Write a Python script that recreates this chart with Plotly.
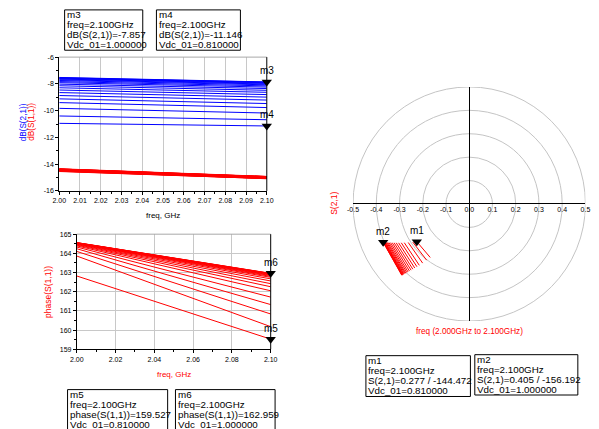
import numpy as np
import plotly.graph_objects as go

W, H = 599, 429
FONT = "Liberation Sans, Arial, sans-serif"
BLUE = "#0000ff"
RED = "#ff0000"
GRID = "#c8c8c8"

# ---------------- data ----------------
vdc = [1.00, 0.99, 0.98, 0.97, 0.96, 0.95, 0.94, 0.93, 0.92, 0.91,
       0.90, 0.89, 0.88, 0.87, 0.86, 0.85, 0.84, 0.83, 0.82, 0.81]
freq_ghz = [2.00, 2.10]

# dB(S(2,1)) at 2.00 GHz and 2.10 GHz, one value per Vdc
s21_db_start = [-7.52, -7.54, -7.57, -7.60, -7.64, -7.69, -7.75, -7.83, -7.91, -8.02,
                -8.14, -8.29, -8.46, -8.65, -8.87, -9.12, -9.40, -9.83, -10.40, -10.95]
s21_db_end = [-7.857, -7.87, -7.89, -7.92, -7.96, -8.01, -8.07, -8.15, -8.24, -8.35,
              -8.48, -8.63, -8.80, -8.99, -9.21, -9.47, -9.77, -10.18, -10.68, -11.146]

# dB(S(1,1))
s11_db_start = [-14.36, -14.37, -14.37, -14.38, -14.39, -14.39, -14.40, -14.41, -14.42, -14.43,
                -14.44, -14.45, -14.46, -14.47, -14.48, -14.49, -14.50, -14.51, -14.52, -14.53]
s11_db_end = [-14.93, -14.94, -14.94, -14.95, -14.96, -14.96, -14.97, -14.98, -14.99, -15.00,
              -15.00, -15.01, -15.02, -15.03, -15.04, -15.05, -15.05, -15.06, -15.07, -15.08]

# phase(S(1,1)) in degrees
s11_phase_start = [164.56, 164.56, 164.55, 164.55, 164.545, 164.54, 164.535, 164.53, 164.52, 164.51,
                   164.50, 164.48, 164.46, 164.43, 164.39, 164.33, 164.24, 164.10, 163.86, 162.82]
s11_phase_end = [162.959, 162.953, 162.945, 162.935, 162.92, 162.90, 162.87, 162.84, 162.80, 162.75,
                 162.67, 162.56, 162.42, 162.26, 162.05, 161.72, 161.33, 160.84, 160.18, 159.527]

# S(2,1) magnitude / angle (deg) at 2.00 GHz and 2.10 GHz
s21_mag_start = [0.4207, 0.4198, 0.4183, 0.4169, 0.4150, 0.4126, 0.4097, 0.4060, 0.4023, 0.3972,
                 0.3918, 0.3851, 0.3776, 0.3694, 0.3602, 0.3499, 0.3388, 0.3224, 0.3020, 0.2834]
s21_mag_end = [0.4047, 0.4041, 0.4032, 0.4018, 0.3999, 0.3976, 0.3949, 0.3912, 0.3873, 0.3824,
               0.3767, 0.3702, 0.3631, 0.3552, 0.3463, 0.3361, 0.3247, 0.3097, 0.2924, 0.2771]
s21_ang_start = [-133.60, -133.57, -133.53, -133.46, -133.37, -133.26, -133.13, -132.96, -132.75, -132.51,
                 -132.22, -131.89, -131.51, -131.09, -130.60, -130.02, -129.36, -128.45, -127.34, -126.30]
s21_ang_end = [-156.192, -156.14, -156.07, -155.97, -155.83, -155.65, -155.44, -155.16, -154.83, -154.44,
               -153.98, -153.45, -152.84, -152.16, -151.37, -150.45, -149.38, -147.92, -146.13, -144.472]

# axis ticks
top_xticks = [2.00, 2.01, 2.02, 2.03, 2.04, 2.05, 2.06, 2.07, 2.08, 2.09, 2.10]
top_yticks = [-16, -14, -12, -10, -8, -6]
bot_xticks = [2.00, 2.02, 2.04, 2.06, 2.08, 2.10]
bot_yticks = [159, 160, 161, 162, 163, 164, 165]
polar_ticks = [-0.5, -0.4, -0.3, -0.2, -0.1, 0.0, 0.1, 0.2, 0.3, 0.4, 0.5]
polar_rings = [0.1, 0.2, 0.3, 0.4, 0.5]

# ---------------- helpers ----------------
def px(x):
    return x / W


def py(y):
    return 1 - y / H


fig = go.Figure()
n = len(vdc)

for i in range(n):
    fig.add_trace(go.Scatter(x=freq_ghz, y=[s21_db_start[i], s21_db_end[i]], mode="lines",
                             line=dict(color=BLUE, width=1), xaxis="x", yaxis="y",
                             showlegend=False, hoverinfo="skip"))
for i in range(n):
    fig.add_trace(go.Scatter(x=freq_ghz, y=[s11_db_start[i], s11_db_end[i]], mode="lines",
                             line=dict(color=RED, width=1.3), xaxis="x", yaxis="y",
                             showlegend=False, hoverinfo="skip"))
for i in range(n):
    fig.add_trace(go.Scatter(x=freq_ghz, y=[s11_phase_start[i], s11_phase_end[i]], mode="lines",
                             line=dict(color=RED, width=1), xaxis="x2", yaxis="y2",
                             showlegend=False, hoverinfo="skip"))
for i in range(n):
    mags = np.array([s21_mag_start[i], s21_mag_end[i]])
    angs = np.deg2rad([s21_ang_start[i], s21_ang_end[i]])
    fig.add_trace(go.Scatter(x=mags * np.cos(angs), y=mags * np.sin(angs), mode="lines",
                             line=dict(color=RED, width=1), xaxis="x3", yaxis="y3",
                             showlegend=False, hoverinfo="skip"))

# ---------------- markers ----------------
fm = freq_ghz[-1]
hi, lo = 0, n - 1
mk = dict(symbol="triangle-down", size=9, color="black")
fig.add_trace(go.Scatter(x=[fm, fm], y=[s21_db_end[hi], s21_db_end[lo]], mode="markers",
                         marker=mk, xaxis="x", yaxis="y", cliponaxis=False,
                         showlegend=False, hoverinfo="skip"))
fig.add_trace(go.Scatter(x=[fm, fm], y=[s11_phase_end[lo], s11_phase_end[hi]], mode="markers",
                         marker=mk, xaxis="x2", yaxis="y2", cliponaxis=False,
                         showlegend=False, hoverinfo="skip"))
pm = np.array([s21_mag_end[lo], s21_mag_end[hi]])
pa = np.deg2rad([s21_ang_end[lo], s21_ang_end[hi]])
fig.add_trace(go.Scatter(x=pm * np.cos(pa), y=pm * np.sin(pa), mode="markers",
                         marker=mk, xaxis="x3", yaxis="y3", cliponaxis=False,
                         showlegend=False, hoverinfo="skip"))

annotations = []
shapes = []


def mlabel(text, x, y, xr, yr):
    annotations.append(dict(text=text, x=x, y=y, xref=xr, yref=yr, showarrow=False,
                            yshift=11, xanchor="center", yanchor="middle",
                            font=dict(family=FONT, size=10, color="black")))


mlabel("m3", fm, s21_db_end[hi], "x", "y")
mlabel("m4", fm, s21_db_end[lo], "x", "y")
mlabel("m5", fm, s11_phase_end[lo], "x2", "y2")
mlabel("m6", fm, s11_phase_end[hi], "x2", "y2")
mlabel("m1", float(pm[0] * np.cos(pa[0])), float(pm[0] * np.sin(pa[0])), "x3", "y3")
mlabel("m2", float(pm[1] * np.cos(pa[1])), float(pm[1] * np.sin(pa[1])), "x3", "y3")

# marker readout boxes
freq_txt = f"freq={fm:.3f}GHz"
boxes = [
    ((59, 139, 6, 47), ["m3", freq_txt, f"dB(S(2,1))={s21_db_end[hi]:.3f}", f"Vdc_01={vdc[hi]:.6f}"]),
    ((153, 239, 6, 47), ["m4", freq_txt, f"dB(S(2,1))={s21_db_end[lo]:.3f}", f"Vdc_01={vdc[lo]:.6f}"]),
    ((62, 164.5, 392, 440), ["m5", freq_txt, f"phase(S(1,1))={s11_phase_end[lo]:.3f}", f"Vdc_01={vdc[lo]:.6f}"]),
    ((172.5, 274.5, 392, 440), ["m6", freq_txt, f"phase(S(1,1))={s11_phase_end[hi]:.3f}", f"Vdc_01={vdc[hi]:.6f}"]),
    ((367.5, 474.5, 357.5, 399), ["m1", freq_txt, f"S(2,1)={s21_mag_end[lo]:.3f} / {s21_ang_end[lo]:.3f}", f"Vdc_01={vdc[lo]:.6f}"]),
    ((479, 584.5, 356.5, 397.5), ["m2", freq_txt, f"S(2,1)={s21_mag_end[hi]:.3f} / {s21_ang_end[hi]:.3f}", f"Vdc_01={vdc[hi]:.6f}"]),
]
for (x0, x1, y0, y1), lines in boxes:
    shapes.append(dict(type="rect", xref="paper", yref="paper", x0=px(x0), x1=px(x1),
                       y0=py(y1), y1=py(y0), line=dict(color="black", width=1),
                       fillcolor="white", layer="above"))
    for k, t in enumerate(lines):
        annotations.append(dict(text=t, xref="paper", yref="paper", x=px(x0 + 1.2),
                                y=py(y0 + 4.8 + 10.1 * k), xanchor="left", yanchor="middle",
                                showarrow=False, borderpad=0,
                                font=dict(family=FONT, size=9.8, color="black")))


# axis titles
def title(text, x, y, color, size=8, angle=0):
    annotations.append(dict(text=text, xref="paper", yref="paper", x=px(x), y=py(y),
                            xanchor="center", yanchor="middle", showarrow=False,
                            textangle=angle, font=dict(family=FONT, size=size, color=color)))


title("freq, GHz", 160, 214.5, "black")
title("dB(S(2,1))", 16.7, 120, BLUE, 8.2, -90)
title("dB(S(1,1))", 24.3, 120, RED, 8.2, -90)
title("freq, GHz", 170.8, 376.7, RED)
title("phase(S(1,1))", 41.7, 293, RED, 8.5, -90)
title("freq (2.000GHz to 2.100GHz)", 473.3, 332.7, RED, 8.2)
title("S(2,1)", 335, 203, RED, 8.5, -90)

# plot frames: top grey, right black
for xr, yr in (("x", "y"), ("x2", "y2")):
    shapes.append(dict(type="line", xref=f"{xr} domain", yref=f"{yr} domain", x0=0, x1=1, y0=1, y1=1,
                       line=dict(color="#a8a8a8", width=1), layer="above"))
    shapes.append(dict(type="line", xref=f"{xr} domain", yref=f"{yr} domain", x0=1, x1=1, y0=0, y1=1,
                       line=dict(color="black", width=1), layer="above"))

# polar rings
for r in polar_rings:
    shapes.append(dict(type="circle", xref="x3", yref="y3", x0=-r, x1=r, y0=-r, y1=r,
                       line=dict(color="#c4c4c4", width=1), layer="below"))

tickfont = dict(family=FONT, size=7, color="black")
common = dict(showline=True, linecolor="black", linewidth=1, ticks="outside", ticklen=3,
              tickcolor="black", tickfont=tickfont, zeroline=False, fixedrange=True)

fig.update_layout(
    width=W, height=H, margin=dict(l=0, r=0, t=0, b=0),
    paper_bgcolor="white", plot_bgcolor="white", showlegend=False,
    font=dict(family=FONT),
    xaxis=dict(domain=[px(53.5), px(266)], range=[2.0, 2.1], anchor="y",
               tickmode="array", tickvals=top_xticks, ticktext=[f"{v:.2f}" for v in top_xticks],
               showgrid=True, gridcolor=GRID, gridwidth=1,
               minor=dict(tickmode="linear", tick0=2.005, dtick=0.01, ticks="outside", ticklen=2,
                          tickcolor="black", showgrid=False),
               **common),
    yaxis=dict(domain=[py(190), py(54)], range=[-16, -6], anchor="x",
               tickmode="array", tickvals=top_yticks, ticktext=[f"{v:d}" for v in top_yticks],
               showgrid=False,
               minor=dict(tickmode="linear", tick0=-15, dtick=2, ticks="outside", ticklen=2,
                          tickcolor="black", showgrid=False),
               **common),
    xaxis2=dict(domain=[px(71.5), px(270)], range=[2.0, 2.1], anchor="y2",
                tickmode="array", tickvals=bot_xticks, ticktext=[f"{v:.2f}" for v in bot_xticks],
                showgrid=True, gridcolor=GRID, gridwidth=1,
                minor=dict(tickmode="linear", tick0=2.01, dtick=0.02, ticks="outside", ticklen=2,
                           tickcolor="black", showgrid=False),
                **common),
    yaxis2=dict(domain=[py(351), py(234)], range=[159, 165], anchor="x2",
                tickmode="array", tickvals=bot_yticks, ticktext=[f"{v:d}" for v in bot_yticks],
                showgrid=True, gridcolor=GRID, gridwidth=1,
                minor=dict(tickmode="linear", tick0=159.5, dtick=1, ticks="outside", ticklen=2,
                           tickcolor="black", showgrid=False),
                **common),
    xaxis3=dict(domain=[px(354.3), px(592.3)], range=[-0.5, 0.5], anchor="free",
                position=py(203.3), tickmode="array", tickvals=polar_ticks,
                ticktext=[f"{v:.1f}" for v in polar_ticks], ticks="", showline=False,
                showgrid=False, zeroline=True, zerolinecolor="black", zerolinewidth=1,
                tickfont=tickfont, fixedrange=True),
    yaxis3=dict(domain=[py(322.3), py(84.3)], range=[-0.5, 0.5], anchor="x3",
                showticklabels=False, ticks="", showline=False, showgrid=False,
                zeroline=True, zerolinecolor="black", zerolinewidth=1, fixedrange=True),
    shapes=shapes,
    annotations=annotations,
)

fig.write_html("out.html")
